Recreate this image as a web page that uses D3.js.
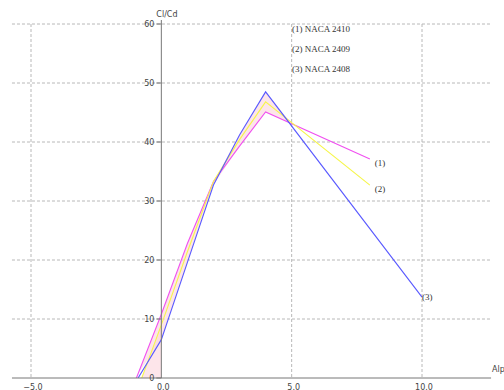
<!DOCTYPE html>
<html>
<head>
<meta charset="utf-8">
<script src="https://cdn.jsdelivr.net/npm/d3@7"></script>
<style>
  body { margin: 0; background: #fff; }
  svg { display: block; }
  .grid line { stroke: #b8b8b8; stroke-dasharray: 3,2; }
  .tick-label { font-family: Tahoma, "DejaVu Sans", sans-serif; font-size: 8px; fill: #444; }
  .serif { font-family: "Liberation Serif", "Times New Roman", serif; font-size: 9px; fill: #333; }
</style>
</head>
<body>
<svg id="chart" width="504" height="390"></svg>
<script>
// series data (alpha -> Cl/Cd)
var names = ["(1) NACA 2410", "(2) NACA 2409", "(3) NACA 2408"];
var tags = ["(1)", "(2)", "(3)"];
var colors = ["#f050f0", "#f6f64a", "#5a5aff"];

var alpha1 = [-1, 0, 1, 2, 3, 4, 8];
var clcd1 = [-0.5, 10.8, 22.8, 33.3, 39.3, 45.1, 37.1];

var alpha2 = [-1, 0, 1, 2, 3, 4, 8];
var clcd2 = [-3.0, 9.0, 21.4, 33.3, 40.4, 46.8, 32.7];

var alpha3 = [-1, 0, 1, 2, 3, 4, 10];
var clcd3 = [-0.8, 6.5, 19.6, 32.7, 41.2, 48.5, 13.7];

var xTicks = [-5, 0, 5, 10];
var yTicks = [0, 10, 20, 30, 40, 50, 60];
var xExtent = [-5.73, 12.65];

var svg = d3.select("#chart");

var x = d3.scaleLinear().domain([-5, 10]).range([31, 422]);
var y = d3.scaleLinear().domain([0, 60]).range([378, 24]);

var series = [
  { x: alpha1, y: clcd1 },
  { x: alpha2, y: clcd2 },
  { x: alpha3, y: clcd3 }
].map(function(s) {
  return s.x.map(function(a, i) { return { a: a, v: s.y[i] }; });
});

// clip everything below Cl/Cd = 0
svg.append("clipPath").attr("id", "plotclip")
  .append("rect")
  .attr("x", x(xExtent[0])).attr("y", y(60) - 4)
  .attr("width", x(xExtent[1]) - x(xExtent[0]))
  .attr("height", y(0) - y(60) + 4);

// grid
var grid = svg.append("g").attr("class", "grid");
grid.selectAll("line.h")
  .data(yTicks.filter(function(d) { return d > 0; }))
  .enter().append("line")
  .attr("x1", x(xExtent[0])).attr("x2", x(xExtent[1]))
  .attr("y1", function(d) { return y(d); })
  .attr("y2", function(d) { return y(d); });
grid.selectAll("line.v")
  .data(xTicks.filter(function(d) { return d != 0; }))
  .enter().append("line")
  .attr("x1", function(d) { return x(d); })
  .attr("x2", function(d) { return x(d); })
  .attr("y1", y(60)).attr("y2", y(0));

var plot = svg.append("g").attr("clip-path", "url(#plotclip)");

// light fill between the curves, up to where (1) and (3) cross after the peak
function interp(s, a) {
  for (var i = 0; i < s.length - 1; i++) {
    if (a >= s[i].a && a <= s[i + 1].a) {
      var t = (a - s[i].a) / (s[i + 1].a - s[i].a);
      return s[i].v + t * (s[i + 1].v - s[i].v);
    }
  }
  return null;
}
var s1 = series[0], s3 = series[2];
var p1 = interp(s1, 4), q1 = interp(s1, 8), p3 = interp(s3, 4), q3 = interp(s3, 8);
var cross = 4 + 4 * (p3 - p1) / ((p3 - p1) - (q3 - q1));

var envX = alpha1.filter(function(a) { return a <= 4; }).concat([cross]);
var env = envX.map(function(a) {
  var vals = series.map(function(s) { return interp(s, a); });
  return { a: a, lo: d3.min(vals), hi: d3.max(vals) };
});
plot.append("path")
  .datum(env)
  .attr("fill", "#fbd3dc")
  .attr("fill-opacity", 0.6)
  .attr("d", d3.area()
    .x(function(d) { return x(d.a); })
    .y0(function(d) { return y(Math.max(d.lo, 0)); })
    .y1(function(d) { return y(d.hi); }));

// faint fill under the curves near alpha 0
plot.append("path")
  .datum(series[1].filter(function(d) { return d.a <= 0; }))
  .attr("fill", "#fbd3dc")
  .attr("fill-opacity", 0.6)
  .attr("d", d3.area()
    .x(function(d) { return x(d.a); })
    .y0(y(0))
    .y1(function(d) { return y(d.v); }));

// curves
var line = d3.line()
  .x(function(d) { return x(d.a); })
  .y(function(d) { return y(d.v); });

series.forEach(function(s, i) {
  plot.append("path")
    .datum(s)
    .attr("fill", "none")
    .attr("stroke", colors[i])
    .attr("stroke-width", 1.1)
    .attr("d", line);
});

// axes
svg.append("line")
  .attr("x1", x(xExtent[0])).attr("x2", x(xExtent[1]))
  .attr("y1", y(0)).attr("y2", y(0))
  .attr("stroke", "#777");
svg.append("line")
  .attr("x1", x(0)).attr("x2", x(0))
  .attr("y1", y(60) - 4).attr("y2", y(0))
  .attr("stroke", "#777");

var yAx = svg.append("g");
yAx.selectAll("line")
  .data(yTicks).enter().append("line")
  .attr("x1", x(0) - 5).attr("x2", x(0))
  .attr("y1", function(d) { return y(d); })
  .attr("y2", function(d) { return y(d); })
  .attr("stroke", "#777");
yAx.selectAll("text")
  .data(yTicks).enter().append("text")
  .attr("class", "tick-label")
  .attr("x", x(0) - 7)
  .attr("y", function(d) { return y(d) + 3; })
  .attr("text-anchor", "end")
  .text(function(d) { return d; });

svg.append("g").selectAll("text")
  .data(xTicks).enter().append("text")
  .attr("class", "tick-label")
  .attr("x", function(d) { return x(d) + 2; })
  .attr("y", 389.5)
  .attr("text-anchor", "middle")
  .text(function(d) { return d3.format(".1f")(d); });

svg.append("text")
  .attr("class", "tick-label")
  .attr("x", x(0) - 5).attr("y", 17)
  .text("Cl/Cd");
svg.append("text")
  .attr("class", "tick-label")
  .attr("x", 492).attr("y", 372)
  .text("Alpha");

// legend
svg.append("g").selectAll("text")
  .data(names).enter().append("text")
  .attr("class", "serif")
  .attr("x", 292)
  .attr("y", function(d, i) { return 32 + i * 20; })
  .text(function(d) { return d; });

// end-of-curve tags
series.forEach(function(s, i) {
  var last = s[s.length - 1];
  svg.append("text")
    .attr("class", "serif")
    .attr("x", x(last.a) + (i == 2 ? 0 : 5))
    .attr("y", y(last.v) + (i == 2 ? 3 : 7))
    .text(tags[i]);
});
</script>
</body>
</html>
